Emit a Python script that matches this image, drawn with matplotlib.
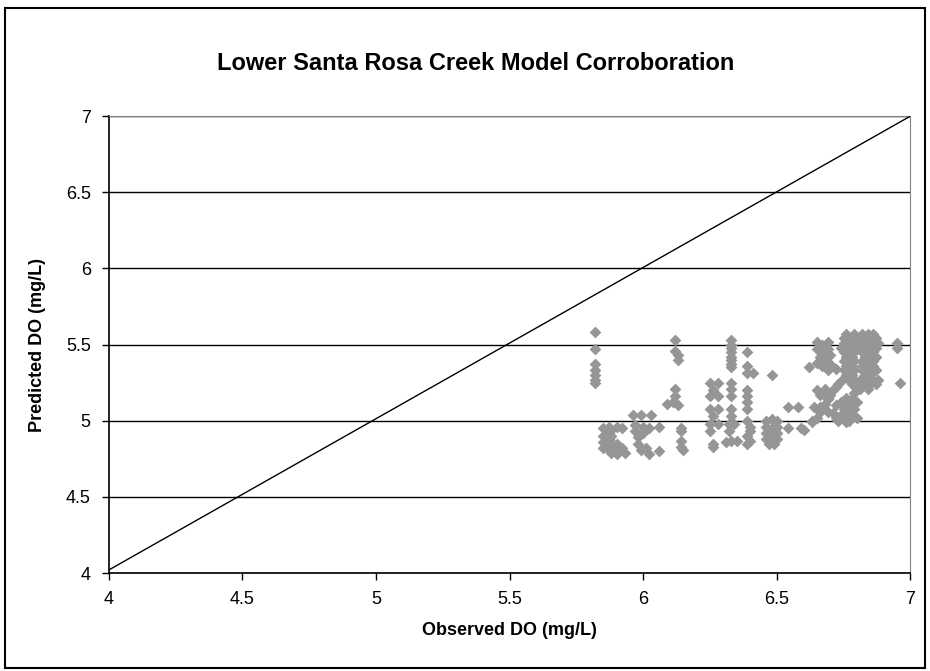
import matplotlib.pyplot as plt
from matplotlib.patches import Rectangle

plt.rcParams['font.family'] = ['Liberation Sans', 'DejaVu Sans']

# observed vs predicted DO (mg/L)
obs_do = [
    5.82, 5.82, 5.82, 5.82, 5.82, 5.82, 5.82,
    5.85, 5.85, 5.85, 5.85, 5.87, 5.87, 5.87, 5.87, 5.87,
    5.88, 5.88, 5.88, 5.88, 5.88, 5.90, 5.90, 5.90, 5.90, 5.92, 5.92, 5.93,
    5.96, 5.99, 6.03,
    5.97, 5.97, 5.98, 5.98, 5.99, 6.00, 6.00, 6.01, 6.02, 6.02, 6.06, 6.06,
    6.12, 6.12, 6.13, 6.13, 6.12, 6.12, 6.11, 6.13, 6.09,
    6.14, 6.14, 6.14, 6.14, 6.15,
    6.25, 6.28, 6.26, 6.25, 6.28, 6.25, 6.28, 6.26, 6.25, 6.28, 6.25, 6.26, 6.26,
    6.33, 6.33, 6.33, 6.33, 6.33, 6.33, 6.33, 6.33, 6.33, 6.33, 6.33, 6.33, 6.33,
    6.32, 6.34, 6.32, 6.31, 6.33, 6.35,
    6.39, 6.39, 6.39, 6.41, 6.39, 6.39, 6.39, 6.39, 6.39, 6.40, 6.40, 6.39, 6.40, 6.39,
    6.48,
    6.46, 6.48, 6.50, 6.46, 6.48, 6.50, 6.46, 6.48, 6.50, 6.46, 6.48, 6.50, 6.47, 6.49,
    6.54, 6.54, 6.58, 6.59, 6.60, 6.63, 6.62,
    6.65, 6.67, 6.69, 6.65, 6.67, 6.69, 6.66, 6.68, 6.70, 6.65, 6.67, 6.70, 6.69, 6.72,
    6.63, 6.65, 6.66, 6.67, 6.68, 6.69, 6.70, 6.71, 6.72, 6.73, 6.74, 6.66, 6.65, 6.68,
    6.64, 6.66, 6.69, 6.69,
    6.71, 6.72, 6.73, 6.74, 6.75, 6.75, 6.76, 6.77, 6.77, 6.78, 6.78, 6.79, 6.79,
    6.80, 6.76, 6.74, 6.72, 6.76, 6.80, 6.80, 6.78,
    6.76, 6.79, 6.82, 6.84, 6.86,
    6.75, 6.77, 6.80, 6.83, 6.85, 6.87,
    6.75, 6.78, 6.80, 6.82, 6.84, 6.86, 6.88,
    6.74, 6.76, 6.78, 6.81, 6.83, 6.85, 6.87,
    6.75, 6.77, 6.79, 6.82, 6.84, 6.86,
    6.76, 6.78, 6.83, 6.85, 6.87,
    6.75, 6.77, 6.79, 6.82, 6.84, 6.86,
    6.76, 6.78, 6.82, 6.84, 6.86,
    6.75, 6.77, 6.79, 6.82, 6.85, 6.87,
    6.76, 6.78, 6.83, 6.85,
    6.77, 6.79, 6.81, 6.84, 6.86, 6.88,
    6.80, 6.82, 6.85, 6.87,
    6.81, 6.84,
    6.95, 6.95, 6.96,
]
pred_do = [
    5.58, 5.47, 5.37, 5.33, 5.30, 5.27, 5.25,
    4.95, 4.90, 4.86, 4.82, 4.96, 4.92, 4.88, 4.84, 4.81,
    4.94, 4.90, 4.86, 4.83, 4.79, 4.96, 4.85, 4.81, 4.78, 4.95, 4.82, 4.79,
    5.04, 5.04, 5.04,
    4.97, 4.93, 4.89, 4.85, 4.81, 4.96, 4.92, 4.82, 4.78, 4.95, 4.96, 4.80,
    5.53, 5.46, 5.43, 5.40, 5.21, 5.16, 5.12, 5.10, 5.11,
    4.95, 4.93, 4.87, 4.83, 4.81,
    5.25, 5.25, 5.20, 5.16, 5.16, 5.08, 5.08, 5.03, 4.98, 4.98, 4.93, 4.85, 4.83,
    5.53, 5.50, 5.48, 5.45, 5.42, 5.40, 5.37, 5.35, 5.25, 5.21, 5.16, 5.08, 5.03,
    4.98, 4.98, 4.93, 4.86, 4.87, 4.87,
    5.45, 5.36, 5.31, 5.31, 5.20, 5.16, 5.12, 5.08, 5.00, 4.96, 4.93, 4.90, 4.87, 4.85,
    5.30,
    5.00, 5.01, 5.00, 4.96, 4.95, 4.96, 4.92, 4.91, 4.92, 4.88, 4.87, 4.88, 4.85, 4.85,
    5.09, 4.95, 5.09, 4.95, 4.94, 5.00, 5.35,
    5.52, 5.50, 5.52, 5.47, 5.45, 5.47, 5.42, 5.40, 5.43, 5.38, 5.36, 5.37, 5.33, 5.34,
    4.99, 5.02, 5.06, 5.08, 5.11, 5.14, 5.17, 5.20, 5.22, 5.24, 5.26, 5.17, 5.20, 5.21,
    5.09, 5.09, 5.15, 5.06,
    5.05, 5.02, 5.00, 5.04, 5.08, 5.01, 5.05, 5.10, 5.00, 5.04, 5.14, 5.08, 5.18,
    5.12, 5.15, 5.12, 5.10, 4.99, 5.02, 5.22, 5.24,
    5.57, 5.57, 5.57, 5.57, 5.57,
    5.54, 5.54, 5.54, 5.54, 5.54, 5.54,
    5.51, 5.51, 5.51, 5.51, 5.51, 5.51, 5.51,
    5.48, 5.48, 5.48, 5.48, 5.48, 5.48, 5.48,
    5.45, 5.45, 5.45, 5.45, 5.45, 5.45,
    5.42, 5.42, 5.42, 5.42, 5.42,
    5.39, 5.39, 5.39, 5.39, 5.39, 5.39,
    5.36, 5.36, 5.36, 5.36, 5.36,
    5.33, 5.33, 5.33, 5.33, 5.33, 5.33,
    5.30, 5.30, 5.30, 5.30,
    5.27, 5.27, 5.27, 5.27, 5.27, 5.27,
    5.24, 5.24, 5.24, 5.24,
    5.21, 5.21,
    5.51, 5.48, 5.25,
]
line_x = [4, 7]
line_y = [4.02, 7]
ticks = [4, 4.5, 5, 5.5, 6, 6.5, 7]

fig = plt.figure(figsize=(9.3, 6.71), dpi=100)
ax = fig.add_axes([0.117, 0.146, 0.862, 0.681])

ax.scatter(obs_do, pred_do, marker='D', s=36, color='#969696', linewidths=0, zorder=3)
ax.plot(line_x, line_y, color='black', lw=1, zorder=4)

ax.set_xlim(4, 7)
ax.set_ylim(4, 7)
ax.set_xticks(ticks)
ax.set_yticks(ticks)
ax.set_xticklabels(['4', '4.5', '5', '5.5', '6', '6.5', '7'])
ax.set_yticklabels(['4', '4.5', '5', '5.5', '6', '6.5', '7'])
ax.tick_params(direction='out', length=5, width=1, labelsize=13, pad=8)
ax.grid(axis='y', color='black', lw=1)
ax.set_axisbelow(True)

ax.spines['top'].set_color('#808080')
ax.spines['right'].set_color('#808080')
ax.spines['left'].set_linewidth(1.2)
ax.spines['bottom'].set_linewidth(1.2)

ax.set_xlabel('Observed DO (mg/L)', fontsize=13, fontweight='bold', labelpad=10)
ax.set_ylabel('Predicted DO (mg/L)', fontsize=13, fontweight='bold', labelpad=14)
fig.text(0.512, 0.906, 'Lower Santa Rosa Creek Model Corroboration',
         ha='center', va='center', fontsize=17, fontweight='bold')

# chart border
fig.patches.append(Rectangle((0.005, 0.005), 0.99, 0.983, transform=fig.transFigure,
                             fill=False, edgecolor='black', lw=1.5))

fig.savefig('out.png', dpi=100)
